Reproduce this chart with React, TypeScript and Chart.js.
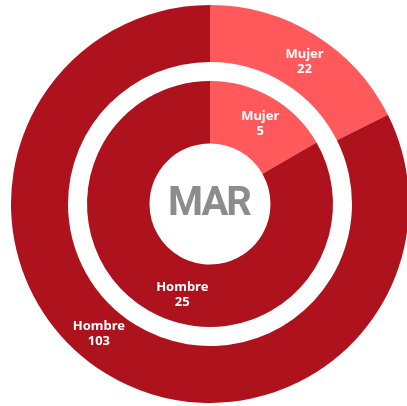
import React, { useEffect, useRef } from "react";
import { Chart, registerables } from "chart.js";

Chart.register(...registerables);

const categories = ["Mujer", "Hombre"];
const outerValues = [22, 103];
const innerValues = [5, 25];
const centerLabel = "MAR";

const SEGMENT_COLORS = ["#FF595C", "#AE121C"];

export default function App() {
  const ref = useRef<HTMLCanvasElement | null>(null);

  useEffect(() => {
    document.body.style.overflow = "hidden";
    const canvas = ref.current;
    if (!canvas) return;

    // angular nudges (degrees) for label placement, per ring [outer, spacer, inner]
    const labelNudge: Record<number, number[]> = { 0: [2, 9], 2: [2, -13] };
    const radiusNudge: Record<number, number> = { 0: 0, 2: 3 };

    const ringLabels = {
      id: "ringLabels",
      afterDatasetsDraw(chart: any) {
        const ctx = chart.ctx;
        ctx.save();
        ctx.fillStyle = "#ffffff";
        ctx.font = "bold 13px 'Noto Sans', sans-serif";
        ctx.textAlign = "center";
        ctx.textBaseline = "middle";
        [0, 2].forEach((di) => {
          const meta = chart.getDatasetMeta(di);
          const data = chart.data.datasets[di].data as number[];
          meta.data.forEach((arc: any, i: number) => {
            const p = arc.getProps(["x", "y", "startAngle", "endAngle", "innerRadius", "outerRadius"], true);
            const a = (p.startAngle + p.endAngle) / 2 + ((labelNudge[di]?.[i] ?? 0) * Math.PI) / 180;
            const r = (p.innerRadius + p.outerRadius) / 2 + (radiusNudge[di] ?? 0);
            const cx = p.x + Math.cos(a) * r;
            const cy = p.y + Math.sin(a) * r;
            ctx.fillText(String(chart.data.labels[i]), cx, cy - 7.5);
            ctx.fillText(String(data[i]), cx, cy + 7.5);
          });
        });
        // center text
        const m = chart.getDatasetMeta(0).data[0] as any;
        const c = m.getProps(["x", "y"], true);
        ctx.fillStyle = "#8C8C8C";
        ctx.font = "bold 40px Roboto, sans-serif";
        try {
          (ctx as any).letterSpacing = "-2px";
        } catch (e) {}
        ctx.fillText(centerLabel, c.x - 1, c.y + 1);
        ctx.restore();
      },
    };

    const chart = new Chart(canvas, {
      type: "doughnut",
      data: {
        labels: categories,
        datasets: [
          {
            data: outerValues,
            backgroundColor: SEGMENT_COLORS,
            borderWidth: 0,
            weight: 57,
          },
          {
            data: [1],
            backgroundColor: ["rgba(0,0,0,0)"],
            borderWidth: 0,
            weight: 19,
          },
          {
            data: innerValues,
            backgroundColor: SEGMENT_COLORS,
            borderWidth: 0,
            weight: 62.5,
          },
        ],
      },
      options: {
        responsive: false,
        animation: false,
        cutout: "30.4%",
        rotation: 0,
        layout: { padding: 0 },
        plugins: {
          legend: { display: false },
          tooltip: { enabled: false },
        },
        events: [],
      },
      plugins: [ringLabels],
    } as any);

    return () => chart.destroy();
  }, []);

  return (
    <div
      style={{
        position: "fixed",
        left: 0,
        top: 0,
        width: 407,
        height: 406,
        overflow: "hidden",
        background: "#ffffff",
      }}
    >
      <canvas
        ref={ref}
        width={398}
        height={398}
        style={{ position: "absolute", left: 11, top: 5, width: 398, height: 398 }}
      />
    </div>
  );
}
